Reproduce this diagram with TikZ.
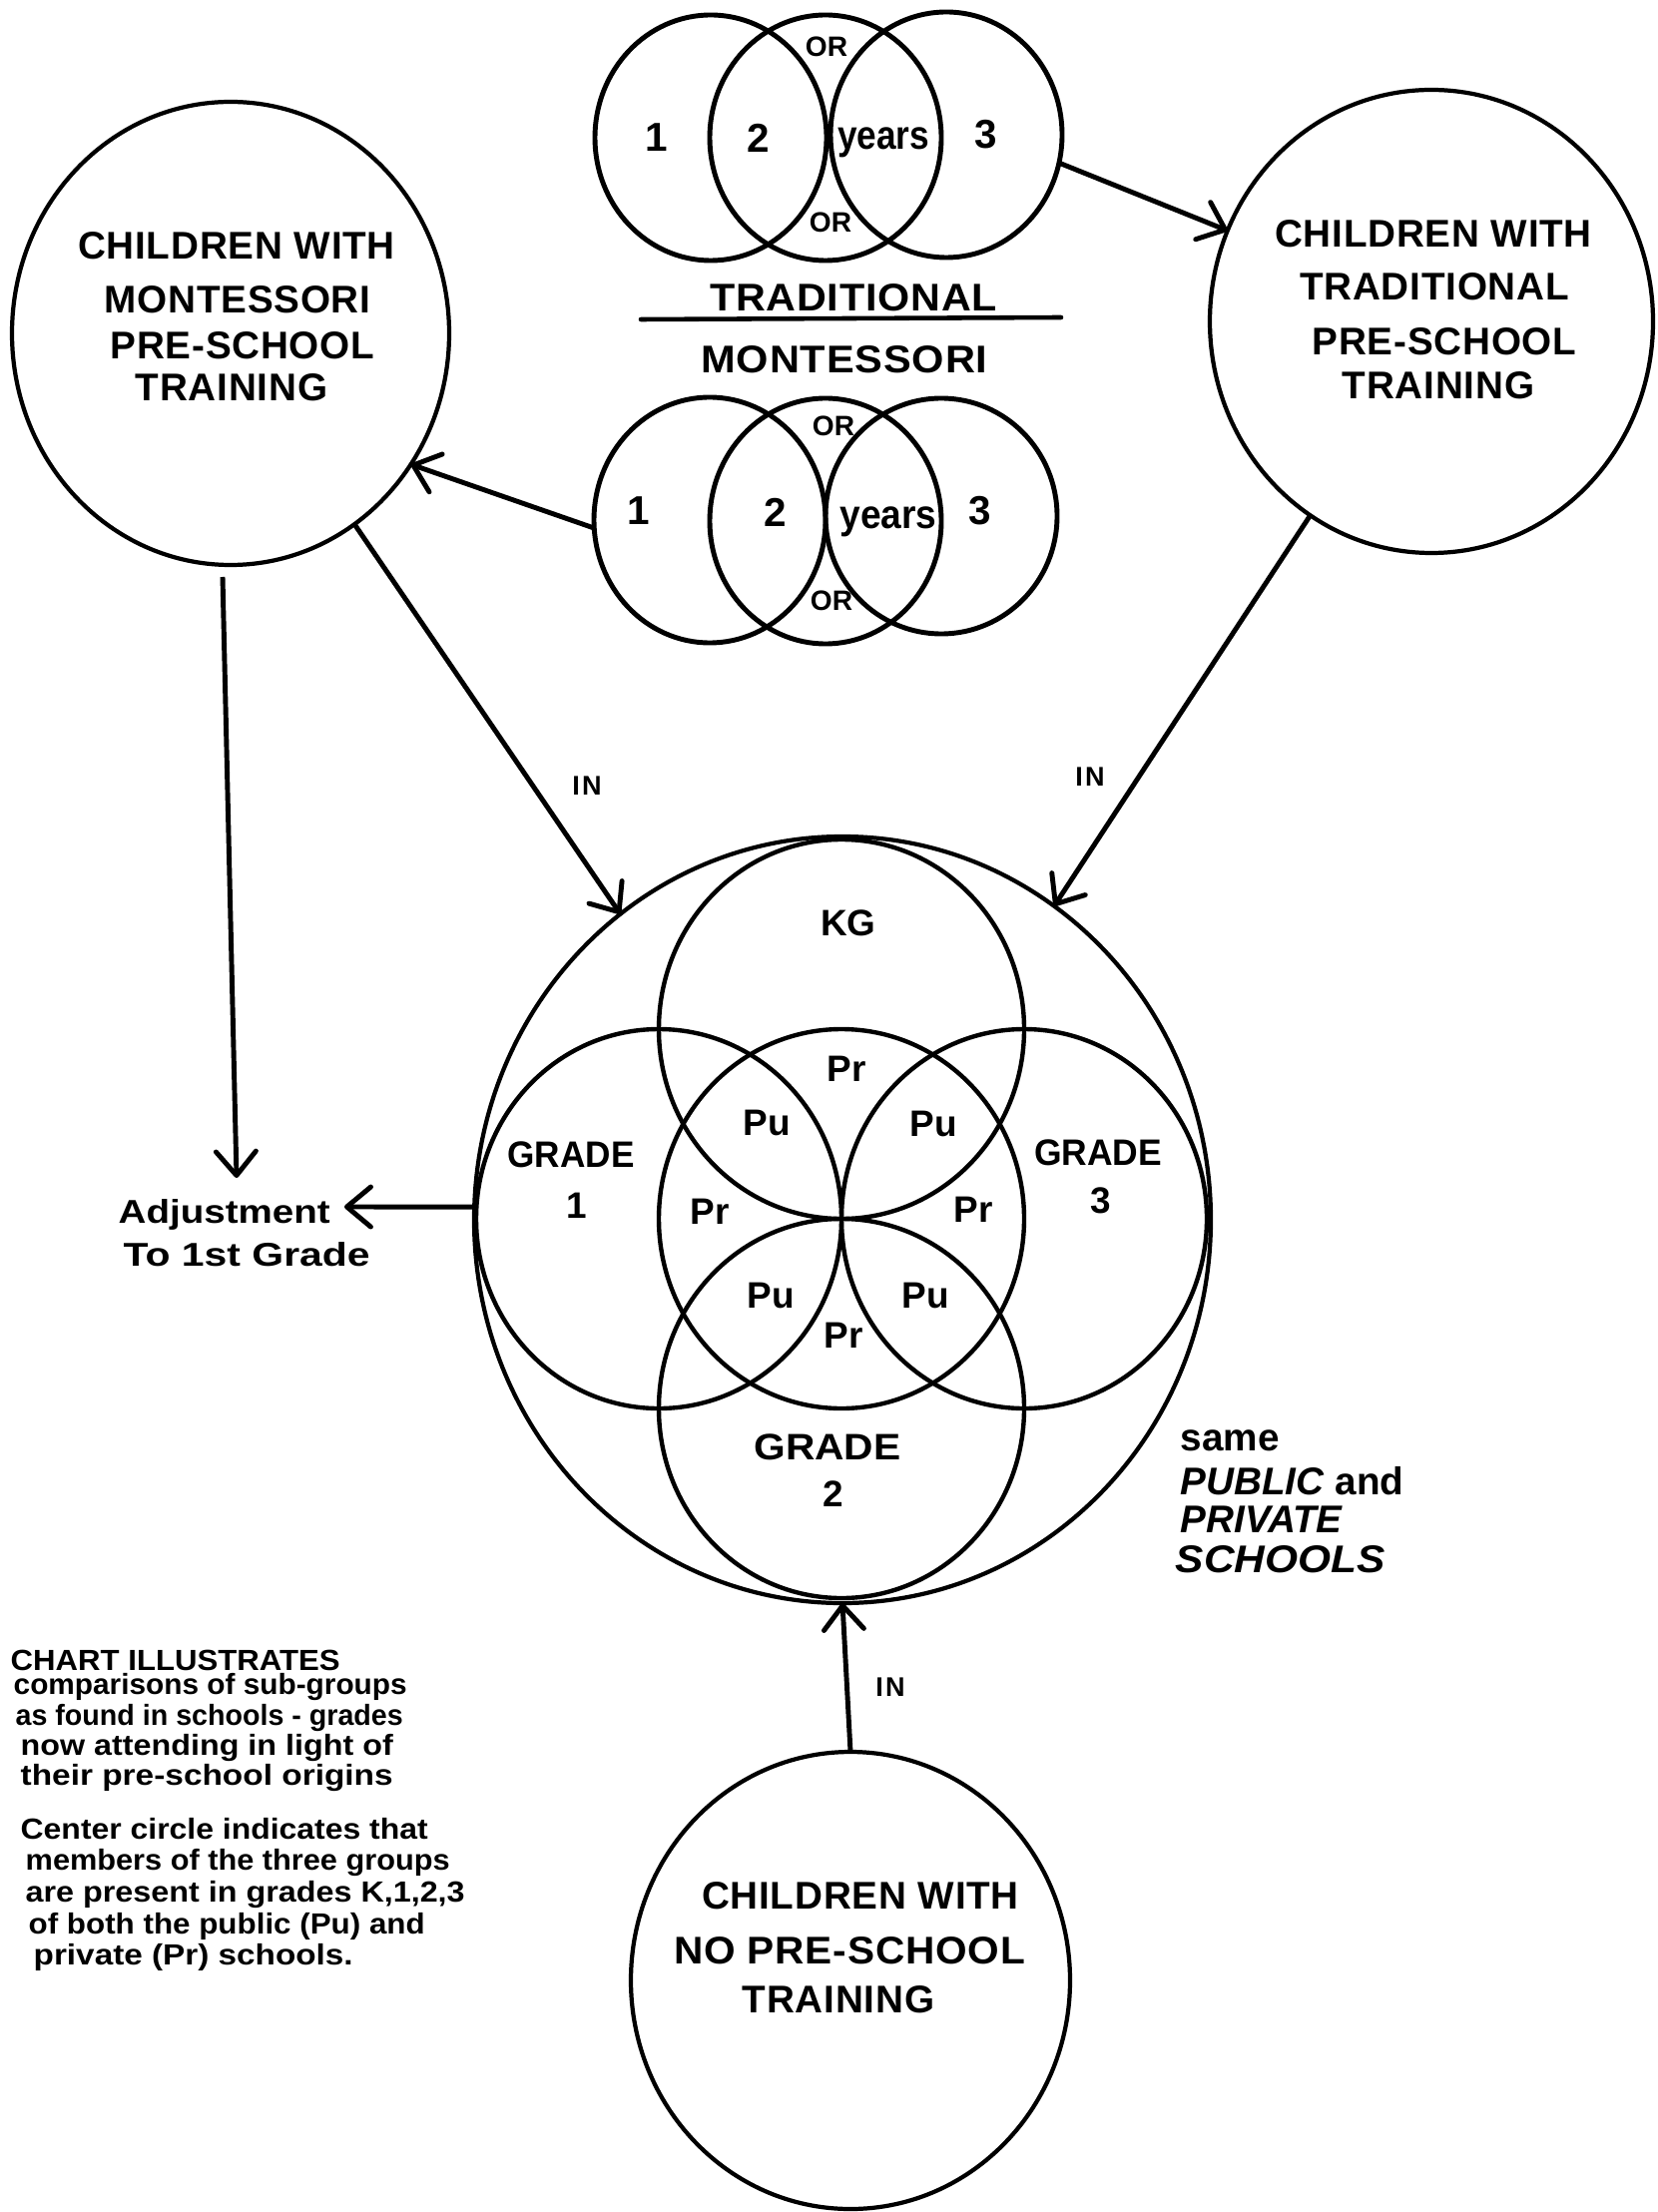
\documentclass[tikz,border=0pt]{standalone}
\usepackage{fontspec}
\setmainfont{Liberation Sans}
\usepackage{graphicx}
\usetikzlibrary{shapes.geometric,arrows.meta,calc}
\newcommand\fitto[2]{\resizebox{#1}{\height}{#2}}
\newcommand\fsz[1]{\fontsize{#1}{#1}\selectfont\bfseries}
\begin{document}
\begin{tikzpicture}[x=0.1mm,y=-0.1mm,
  ring/.style={draw, ellipse, inner sep=0pt, outer sep=0pt, line width=1.2pt},
  venn/.style={ring, line width=1.4pt, minimum width=23.2mm, minimum height=24.6mm},
  gradec/.style={ring, line width=1.25pt, minimum width=36.6mm, minimum height=38mm},
  conn/.style={line width=1.4pt, -{Straight Barb[length=2.4mm,width=4mm,round]}},
  big/.style={inner sep=0pt, font=\fsz{11pt}\addfontfeature{LetterSpace=2}},
  num/.style={inner sep=0pt, font=\fsz{11.5pt}},
  orl/.style={inner sep=0pt, font=\fsz{8pt}},
  inl/.style={inner sep=0pt, font=\fsz{7.7pt}\addfontfeature{LetterSpace=8}},
  cell/.style={inner sep=0pt, font=\fsz{10.5pt}},
  captxt/.style={inner sep=0pt, anchor=base west, font=\fsz{8.3pt}},
  side/.style={inner sep=0pt, anchor=base west, font=\fsz{11pt}}]
\fill[white] (0,0) rectangle (1660,2216);
\useasboundingbox (0,0) rectangle (1660,2216);

% ---------- top Venn (traditional)
\node[venn] (tl) at (712,138) {};
\node[venn] (tm) at (827,138) {};
\node[venn] (tr) at (948,135) {};
\node[num] (tn1) at (658,138) {1};
\node[num] (tn2) at (760,138) {2};
\node[num, anchor=base] (tyr) at (885,150) {\fitto{9.2mm}{years}};
\node[num] (tn3) at (988,135) {3};
\node[orl] (tor1) at (828,47) {OR};
\node[orl] (tor2) at (832,223) {OR};

\node[big] (trad) at (855,298) {\fitto{28.8mm}{TRADITIONAL}};
\coordinate (bl) at (642,320);
\coordinate (br) at (1063,318);
\draw[line width=1.3pt, line cap=round] (bl) -- (br);
\node[big] (mont) at (846,360) {\fitto{28.7mm}{MONTESSORI}};

% ---------- Montessori Venn
\node[venn] (ml) at (711,521) {};
\node[venn] (mm) at (827,522) {};
\node[venn, minimum height=23.6mm] (mr) at (943,517) {};
\node[num] (mn1) at (640,512) {1};
\node[num] (mn2) at (777,513) {2};
\node[num, anchor=base] (myr) at (890,530) {\fitto{9.7mm}{years}};
\node[num] (mn3) at (982,512) {3};
\node[orl] (mor1) at (835,427) {OR};
\node[orl] (mor2) at (833,602) {OR};

% ---------- big group circles
\node[ring, minimum width=43.8mm, minimum height=46.4mm] (lc) at (231,334) {};
\node[big] at (237,246) {CHILDREN WITH};
\node[big] at (238,300) {MONTESSORI};
\node[big] at (243,346) {PRE-SCHOOL};
\node[big] at (232,388) {TRAINING};

\node[ring, minimum width=44.4mm, minimum height=46.4mm] (rc) at (1434,322) {};
\node[big] at (1436,234) {CHILDREN WITH};
\node[big] at (1437,287) {TRADITIONAL};
\node[big] at (1447,342) {PRE-SCHOOL};
\node[big] at (1441,386) {TRAINING};

\node[ring, minimum width=44mm, minimum height=45.8mm] (bc) at (852,1984) {};
\node[big] at (862,1899) {CHILDREN WITH};
\node[big] at (851,1954) {\fitto{35.2mm}{NO PRE-SCHOOL}};
\node[big] at (840,2003) {TRAINING};

% ---------- central school diagram
\node[ring, minimum width=73.8mm, minimum height=76.8mm] (outer) at (844,1222) {};
\node[gradec] (cen) at (843,1221) {};
\node[gradec] (kg) at (843,1031) {};
\node[gradec] (g2) at (843,1411) {};
\node[gradec] (g1) at (660,1221) {};
\node[gradec] (g3) at (1026,1221) {};

\node[cell] at (850,925) {KG};
\node[cell] at (848,1071) {Pr};
\node[cell] at (768,1125) {Pu};
\node[cell] at (935,1126) {Pu};
\node[cell] at (711,1214) {Pr};
\node[cell] at (975,1212) {Pr};
\node[cell] at (772,1298) {Pu};
\node[cell] at (927,1298) {Pu};
\node[cell] at (845,1338) {Pr};
\node[cell] at (572,1157) {\fitto{12.7mm}{GRADE}};
\node[cell] at (578,1208) {1};
\node[cell] at (1100,1155) {\fitto{12.8mm}{GRADE}};
\node[cell] at (1103,1203) {3};
\node[cell] at (829,1450) {\fitto{14.7mm}{GRADE}};
\node[cell] at (835,1497) {2};

% ---------- side texts
\node[side] (same) at (1182,1453) {same};
\node[side] (pub) at (1182,1497) {\textit{PUBLIC} and};
\node[side] (priv) at (1182,1535) {\textit{PRIVATE}};
\node[side] (schl) at (1177,1575) {\fitto{21mm}{\textit{SCHOOLS}}};

\node[inner sep=0pt, anchor=base west, font=\fsz{9.4pt}] (adj) at (118,1225) {\fitto{21.2mm}{Adjustment}};
\node[inner sep=0pt, anchor=base west, font=\fsz{9.4pt}] (adj2) at (123,1268) {\fitto{24.7mm}{To 1st Grade}};

\node[captxt] at (10,1673) {\fitto{33mm}{CHART ILLUSTRATES}};
\node[captxt] at (13,1697) {\fitto{39.4mm}{comparisons of sub-groups}};
\node[captxt] at (15,1728) {\fitto{38.8mm}{as found in schools - grades}};
\node[captxt] at (20,1758) {\fitto{37.3mm}{now attending in light of}};
\node[captxt] at (20,1788) {\fitto{37.3mm}{their pre-school origins}};
\node[captxt] at (20,1842) {\fitto{40.8mm}{Center circle indicates that}};
\node[captxt] at (25,1873) {\fitto{42.5mm}{members of the three groups}};
\node[captxt] at (25,1905) {\fitto{44mm}{are present in grades K,1,2,3}};
\node[captxt] at (28,1937) {\fitto{39.7mm}{of both the public (Pu) and}};
\node[captxt] at (33,1968) {\fitto{32mm}{private (Pr) schools.}};

% ---------- connectors
\draw[conn] (tr.-14) -- (rc.156);
\draw[conn] (ml.184) -- (lc.-36);
\draw[conn] (lc.-57) -- (outer.126);
\draw[conn] (rc.-122) -- (outer.56);
\draw[conn] (bc.north) -- (outer.south);
\coordinate (adjin) at (237,1180);
\draw[conn] ([xshift=-0.8mm,yshift=-1.2mm]lc.south) -- (adjin);
\coordinate (adjR) at (345,1209);
\draw[conn] (outer.178) -- (adjR);

\node[inl] (inL) at (588,787) {IN};
\node[inl] (inR) at (1092,778) {IN};
\node[inl] (inB) at (892,1690) {IN};
\end{tikzpicture}
\end{document}
